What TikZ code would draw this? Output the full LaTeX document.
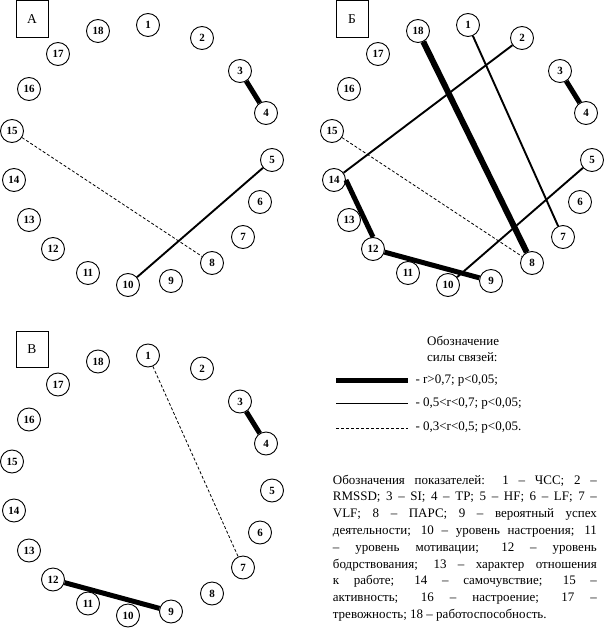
\documentclass[tikz,border=0pt]{standalone}
\usepackage{fontspec}
\setmainfont{Liberation Serif}
\usetikzlibrary{positioning}

\begin{document}
\begin{tikzpicture}[x=1pt, y=-1pt, every node/.style={font=\fontsize{13}{16.8}\selectfont}]
\tikzset{point/.style={draw, circle, line width=0.9pt, minimum size=23pt, inner sep=0pt, fill=white, font=\fontsize{11}{11}\selectfont\bfseries}}
\tikzset{panel/.style={draw, line width=0.8pt, minimum width=32pt, minimum height=36.5pt, inner sep=0pt, font=\fontsize{13.5}{14}\selectfont}}
\tikzset{strong/.style={line width=5pt}}
\tikzset{middle/.style={line width=1.9pt}}
\tikzset{weak/.style={line width=0.8pt, dash pattern=on 3pt off 2pt}}
\useasboundingbox (0,0) rectangle (610,639);
% three panels of 18 points
\foreach \p/\dx/\dy/\t in {a/0/0/А, b/320/0/Б, c/0/330.5/В} {
  \node[panel] (\p-box) at (32+\dx, 18.7+\dy) {\t};
  \foreach \i/\x/\y in {1/148/25, 2/202/38, 3/240/71, 4/266/113, 5/272/160, 6/260/202,
      7/243/237, 8/212/263, 9/171/281, 10/128/285, 11/88/273, 12/53/249,
      13/29/220, 14/14/180, 15/12/131, 16/29/89, 17/58/54, 18/98/31}
    \node[point] (\p\i) at (\x+\dx, \y+\dy) {\i};
}
% panel A
\draw[strong] (a3) -- (a4);
\draw[middle] (a5) -- (a10);
\draw[weak] (a15) -- (a8);
% panel B
\draw[strong] (b3) -- (b4);
\draw[strong, line width=6pt] (b18) -- (b8);
\draw[strong] (b14.east) -- (b12.north);
\draw[strong] (b12) -- (b9);
\draw[middle] (b1) -- (b7);
\draw[middle] (b2) -- (b14);
\draw[middle] (b5) -- (b10);
\draw[weak] (b15) -- (b8);
% panel V
\draw[strong] (c3) -- (c4);
\draw[strong] (c12) -- (c9);
\draw[weak] (c1) -- (c7);
% legend
\node[align=left, anchor=north west, inner sep=0pt] (head) at (427, 336) {Обозначение\\[-1pt]силы связей:};
\node[anchor=west] (gr1) at (412, 380.5) {- r>0,7; p<0,05;};
\node[anchor=west] (gr2) at (412, 403.5) {- 0,5<r<0,7; p<0,05;};
\node[anchor=west] (gr3) at (412, 428) {- 0,3<r<0,5; p<0,05.};
\draw[strong] ([xshift=-76pt]gr1.west) -- ([xshift=-4pt]gr1.west);
\draw[middle] ([xshift=-76pt]gr2.west) -- ([xshift=-4pt]gr2.west);
\draw[weak] ([xshift=-76pt]gr3.west) -- ([xshift=-4pt]gr3.west);
\node[align=justify, text width=264pt, anchor=north west, inner sep=0pt] (key) at (332.7, 474.5)
  {\hyphenpenalty=10000 Обозначения показателей: 1 – ЧСС; 2 –\linebreak
   RMSSD; 3 – SI; 4 – TP; 5 – HF; 6 – LF; 7 –\linebreak
   VLF; 8 – ПАРС; 9 – вероятный успех\linebreak
   деятельности; 10 – уровень настроения; 11\linebreak
   – уровень мотивации; 12 – уровень\linebreak
   бодрствования; 13 – характер отношения\linebreak
   к работе; 14 – самочувствие; 15 –\linebreak
   активность; 16 – настроение; 17 –\linebreak
   тревожность; 18 – работоспособность.};
\end{tikzpicture}
\end{document}
